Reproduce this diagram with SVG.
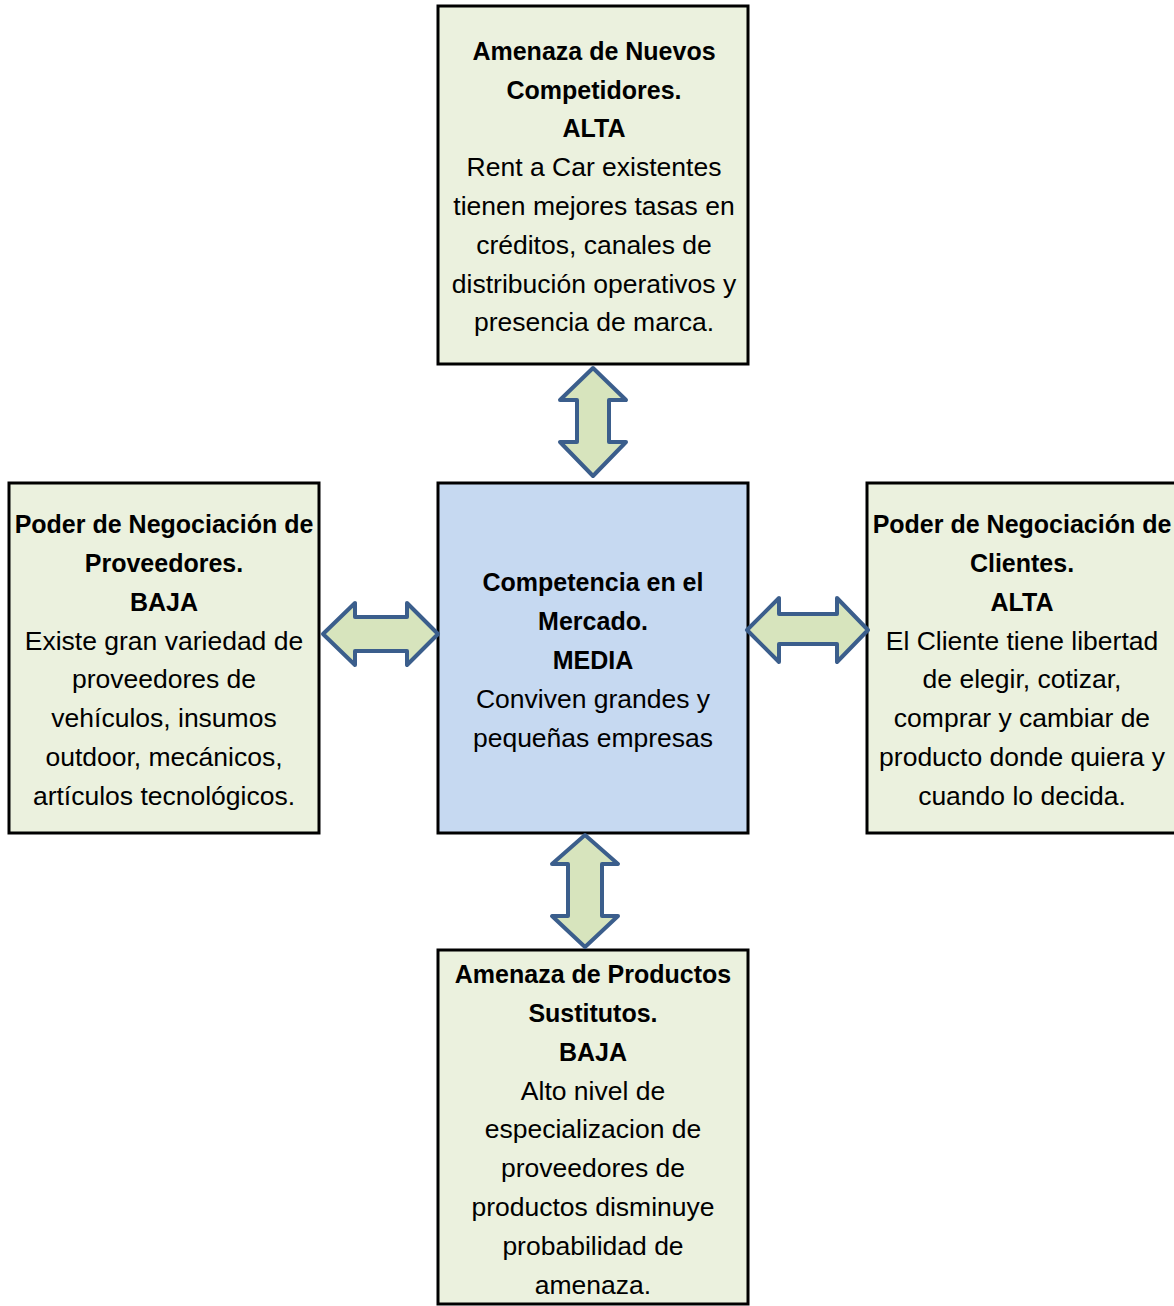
<svg xmlns="http://www.w3.org/2000/svg" width="1174" height="1306" viewBox="0 0 1174 1306">
<style>
.box{fill:#EBF1DE;stroke:#000;stroke-width:3}
.center{fill:#C6D9F1;stroke:#000;stroke-width:3}
.arr{fill:#D7E4BD;stroke:#3B5E8C;stroke-width:4;stroke-linejoin:round}
text{font-family:"Liberation Sans",Arial,sans-serif;font-size:26.5px;fill:#000;text-anchor:middle}
.b{font-weight:bold;font-size:25px}
</style>
<rect width="1174" height="1306" fill="#fff"/>
<g id="top">
<rect class="box" x="438" y="6" width="310" height="358"/>
<text x="594" y="60" class="b">Amenaza de Nuevos</text>
<text x="594" y="99" class="b">Competidores.</text>
<text x="594" y="137" class="b">ALTA</text>
<text x="594" y="176">Rent a Car existentes</text>
<text x="594" y="215">tienen mejores tasas en</text>
<text x="594" y="254">créditos, canales de</text>
<text x="594" y="293">distribución operativos y</text>
<text x="594" y="331">presencia de marca.</text>
</g>
<g id="left">
<rect class="box" x="9" y="483" width="310" height="350"/>
<text x="164" y="533" class="b">Poder de Negociación de</text>
<text x="164" y="572" class="b">Proveedores.</text>
<text x="164" y="611" class="b">BAJA</text>
<text x="164" y="650">Existe gran variedad de</text>
<text x="164" y="688">proveedores de</text>
<text x="164" y="727">vehículos, insumos</text>
<text x="164" y="766">outdoor, mecánicos,</text>
<text x="164" y="805">artículos tecnológicos.</text>
</g>
<g id="center">
<rect class="center" x="438" y="483" width="310" height="350"/>
<text x="593" y="591" class="b">Competencia en el</text>
<text x="593" y="630" class="b">Mercado.</text>
<text x="593" y="669" class="b">MEDIA</text>
<text x="593" y="708">Conviven grandes y</text>
<text x="593" y="747">pequeñas empresas</text>
</g>
<g id="right">
<rect class="box" x="867" y="483" width="312" height="350"/>
<text x="1022" y="533" class="b">Poder de Negociación de</text>
<text x="1022" y="572" class="b">Clientes.</text>
<text x="1022" y="611" class="b">ALTA</text>
<text x="1022" y="650">El Cliente tiene libertad</text>
<text x="1022" y="688">de elegir, cotizar,</text>
<text x="1022" y="727">comprar y cambiar de</text>
<text x="1022" y="766">producto donde quiera y</text>
<text x="1022" y="805">cuando lo decida.</text>
</g>
<g id="bottom">
<rect class="box" x="438" y="950" width="310" height="354"/>
<text x="593" y="983" class="b">Amenaza de Productos</text>
<text x="593" y="1022" class="b">Sustitutos.</text>
<text x="593" y="1061" class="b">BAJA</text>
<text x="593" y="1100">Alto nivel de</text>
<text x="593" y="1138">especializacion de</text>
<text x="593" y="1177">proveedores de</text>
<text x="593" y="1216">productos disminuye</text>
<text x="593" y="1255">probabilidad de</text>
<text x="593" y="1294">amenaza.</text>
</g>
<g id="connectors">
<path class="arr" d="M593,368 L626,400 L609,400 L609,442 L626,442 L593,476 L560,442 L577,442 L577,400 L560,400 Z"/>
<path class="arr" d="M585,835 L618,864 L602,864 L602,916 L618,916 L585,947 L552,916 L568,916 L568,864 L552,864 Z"/>
<path class="arr" d="M323,634 L355,603 L355,617 L407,617 L407,603 L438,634 L407,665 L407,651 L355,651 L355,665 Z"/>
<path class="arr" d="M747,630 L779,598 L779,614 L837,614 L837,598 L868,630 L837,662 L837,644 L779,644 L779,662 Z"/>
</g>
</svg>
